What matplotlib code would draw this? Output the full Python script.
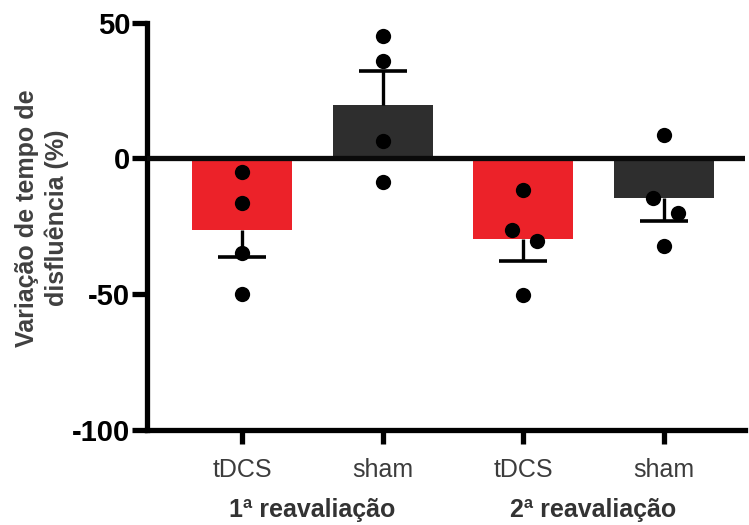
import numpy as np
import matplotlib
matplotlib.use("Agg")
import matplotlib.pyplot as plt
from matplotlib.transforms import blended_transform_factory

plt.rcParams['font.family'] = ['Liberation Sans', 'DejaVu Sans']

categories = ["tDCS", "sham", "tDCS", "sham"]
groups = ["1ª reavaliação", "2ª reavaliação"]
tdcs1 = [-5.0, -16.4, -34.7, -50.0]
sham1 = [45.2, 36.0, 6.4, -8.7]
tdcs2 = [-11.8, -26.5, -30.6, -50.3]
sham2 = [8.7, -14.7, -20.1, -32.4]
series = [tdcs1, sham1, tdcs2, sham2]
jitter = [[0, 0, 0, 0], [0, 0, 0, 0], [0, -0.08, 0.1, 0], [0, -0.08, 0.1, 0]]
yticks = [50, 0, -50, -100]

red = "#EC2229"
dark = "#2E2E2E"
colors = [red, dark, red, dark]

fig = plt.figure(figsize=(7.49, 5.25), dpi=100)
ax = fig.add_axes([0.196, 0.181, 0.799, 0.776])

x = np.arange(len(categories))
means = [np.mean(s) for s in series]
sems = [np.std(s, ddof=1) / np.sqrt(len(s)) for s in series]

ax.bar(x, means, width=0.71, color=colors, zorder=2)
for xi, m, e in zip(x, means, sems):
    end = m - e if m < 0 else m + e
    ax.plot([xi, xi], [m, end], color='black', lw=2.4, zorder=3,
            solid_capstyle='butt')
    ax.plot([xi], [end], marker='_', markersize=35, mew=2.6, color='black',
            zorder=3)
ax.axhline(0, color='#0a0a0a', lw=3.8, zorder=4)
for xi, s, j in zip(x, series, jitter):
    ax.plot(xi + np.array(j), s, 'o', color='black', markersize=11,
            zorder=5, markeredgewidth=0)

ax.set_xlim(-0.68, 3.58)
ax.set_ylim(-100, 50)
ax.set_yticks(yticks)
ax.set_yticklabels([str(v) for v in yticks], fontsize=21, fontweight='bold')
ax.set_xticks(x)
ax.set_xticklabels(categories, fontsize=18, color='#3c3c3c')

for side in ['top', 'right']:
    ax.spines[side].set_visible(False)
for side in ['left', 'bottom']:
    ax.spines[side].set_linewidth(3.8)
    ax.spines[side].set_color('black')
ax.tick_params(axis='y', length=11, width=3.8, pad=1)
ax.tick_params(axis='x', length=10, width=3.8, pad=10)

ax.set_ylabel("Variação de tempo de\ndisfluência (%)", fontsize=18,
              fontweight='bold', color='#404040', linespacing=1.28)
ax.yaxis.label.set_va('center')
ax.yaxis.set_label_coords(-0.175, 0.52)

trans = blended_transform_factory(ax.transData, fig.transFigure)
for i, g in enumerate(groups):
    ax.text(2 * i + 0.5, 0.028, g, transform=trans, ha='center', va='center',
            fontsize=18, fontweight='bold', color='#333333')

fig.savefig("out.png", dpi=100)
